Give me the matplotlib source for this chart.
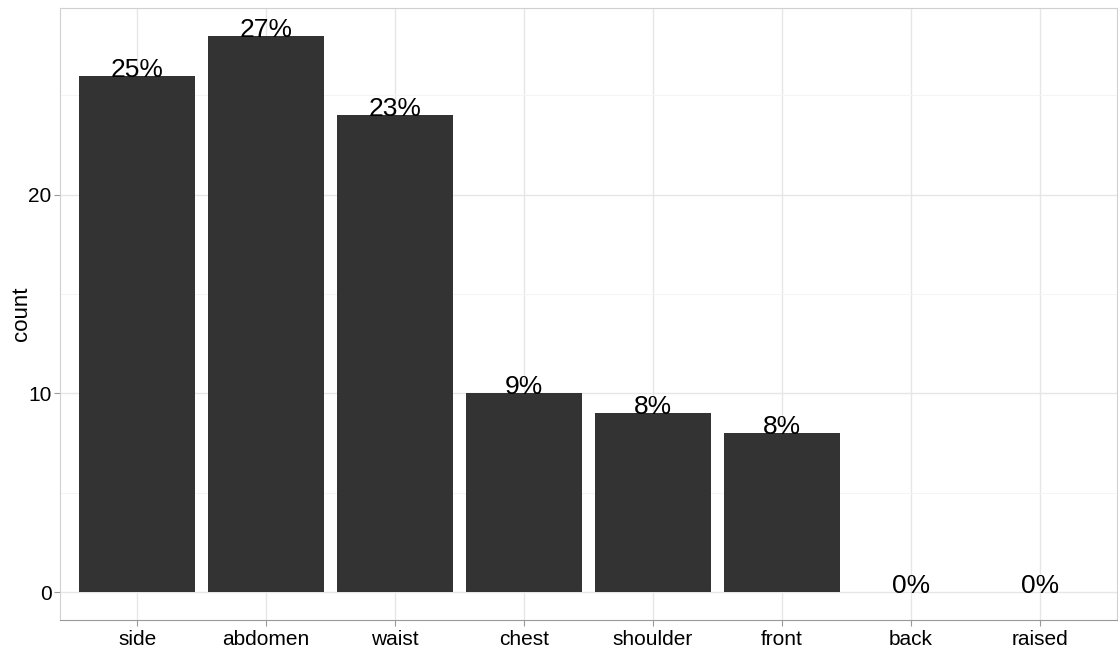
import matplotlib
matplotlib.use("Agg")
import matplotlib.pyplot as plt
from matplotlib.ticker import MultipleLocator

plt.rcParams["font.family"] = ["Liberation Sans", "DejaVu Sans"]

categories = ["side", "abdomen", "waist", "chest", "shoulder", "front", "back", "raised"]
counts = [26, 28, 24, 10, 9, 8, 0, 0]
pct_labels = ["25%", "27%", "23%", "9%", "8%", "8%", "0%", "0%"]

fig = plt.figure(figsize=(11.18, 6.55), dpi=100)
ax = fig.add_axes([60/1118, 1-620/655, 1057/1118, 612/655])

x = list(range(len(categories)))
ax.bar(x, counts, width=0.9, color="#333333", zorder=3)
for xi, c, lab in zip(x, counts, pct_labels):
    ax.text(xi, c - 0.05, lab, ha="center", va="baseline", fontsize=19, color="black", zorder=4)

ax.set_xlim(-0.6, len(categories) - 0.4)
ax.set_ylim(-1.4, 29.4)
ax.set_xticks(x)
ax.set_xticklabels(categories)
ax.yaxis.set_major_locator(MultipleLocator(10))
ax.yaxis.set_minor_locator(MultipleLocator(5))
ax.set_ylabel("count", fontsize=16)
ax.yaxis.set_label_coords(-28/1057, 0.5)
ax.tick_params(axis="both", labelsize=15, length=4, labelcolor="black", pad=3)
ax.tick_params(axis="y", pad=2)
ax.tick_params(axis="both", which="major", color="#999999")
ax.tick_params(axis="y", which="minor", length=0)
ax.grid(True, which="major", color="#E6E6E6", linewidth=1.0, zorder=0)
ax.grid(True, which="minor", axis="y", color="#F4F4F4", linewidth=0.7, zorder=0)
for s in ["top", "left", "right"]:
    ax.spines[s].set_color("#D0D0D0")
ax.spines["bottom"].set_color("#999999")

fig.savefig("out.png", dpi=100)
